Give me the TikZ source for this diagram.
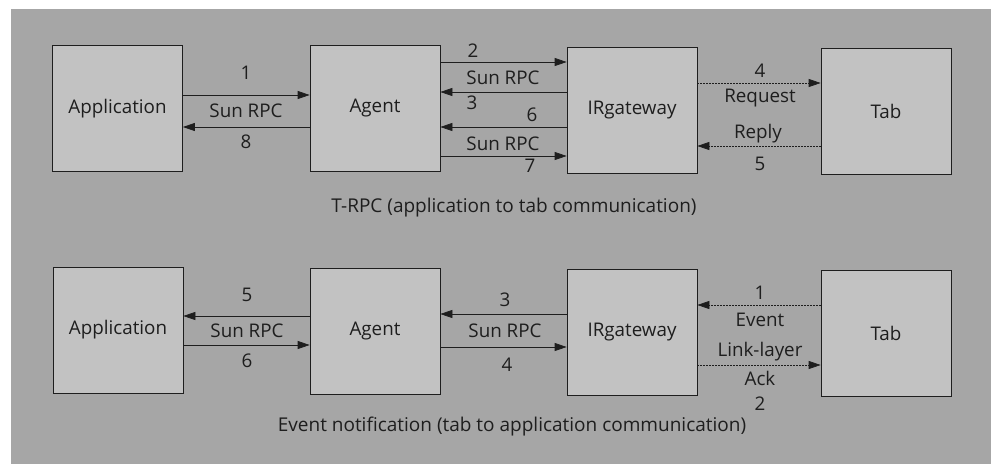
\documentclass[tikz,border=0pt]{standalone}
\usepackage{fontspec}
\setmainfont{Open Sans}
\usetikzlibrary{arrows.meta}
\definecolor{bg}{HTML}{A6A6A6}
\definecolor{boxc}{HTML}{C2C2C2}
\definecolor{ink}{HTML}{1E1E1E}
\begin{document}
\begin{tikzpicture}[x=1pt,y=-1pt,
  font=\fontsize{18.8}{20}\selectfont,
  blk/.style={draw=ink, line width=0.7pt, fill=boxc, minimum width=130pt, minimum height=126pt, inner sep=0pt, text=ink},
  conn/.style={draw=ink, line width=0.7pt, -{Triangle[length=12pt,width=8pt]}},
  dconn/.style={conn, dash pattern=on 1.5pt off 1.5pt},
  lbl/.style={text=ink, inner sep=0pt},
  captxt/.style={lbl, font=\fontsize{19}{20}\selectfont}]
\useasboundingbox (0,0) rectangle (991,464);
\fill[bg] (11,9) rectangle (991,464);
% top row
\node[blk] (app1) at (117.5,108.5) {Application};
\node[blk] (ag1) at (375,108.5) {Agent};
\node[blk] (ir1) at (632,110) {IRgateway};
\node[blk] (tab1) at (886,111) {Tab};
\draw[conn] (app1.east |- {(0,95)}) -- (ag1.west |- {(0,95)});
\draw[conn] (ag1.west |- {(0,127)}) -- (app1.east |- {(0,127)});
\node[lbl] (t1) at (246,73) {1};
\node[lbl] (t2) at (246,111) {Sun RPC};
\node[lbl] (t3) at (246,142) {8};
\draw[conn] (ag1.east |- {(0,62)}) -- (ir1.west |- {(0,62)});
\draw[conn] (ir1.west |- {(0,92)}) -- (ag1.east |- {(0,92)});
\draw[conn] (ir1.west |- {(0,127)}) -- (ag1.east |- {(0,127)});
\draw[conn] (ag1.east |- {(0,156)}) -- (ir1.west |- {(0,156)});
\node[lbl] (t4) at (473,51) {2};
\node[lbl] (t5) at (503,78) {Sun RPC};
\node[lbl] (t6) at (472,103) {3};
\node[lbl] (t7) at (532,115) {6};
\node[lbl] (t8) at (503,144) {Sun RPC};
\node[lbl] (t9) at (530,166) {7};
\draw[dconn] (ir1.east |- {(0,83)}) -- (tab1.west |- {(0,83)});
\draw[dconn] (tab1.west |- {(0,146)}) -- (ir1.east |- {(0,146)});
\node[lbl] (t10) at (760,71) {4};
\node[lbl] (t11) at (760,98) {Request};
\node[lbl] (t12) at (758,134) {Reply};
\node[lbl] (t13) at (760,164) {5};
\node[captxt] (cap1) at (514,208) {T-RPC (application to tab communication)};
% bottom row
\node[blk] (app2) at (118,330) {Application};
\node[blk] (ag2) at (375,331) {Agent};
\node[blk] (ir2) at (632,332) {IRgateway};
\node[blk] (tab2) at (886,333.5) {Tab};
\draw[conn] (ag2.west |- {(0,316)}) -- (app2.east |- {(0,316)});
\draw[conn] (app2.east |- {(0,345)}) -- (ag2.west |- {(0,345)});
\node[lbl] (b1) at (247,295) {5};
\node[lbl] (b2) at (247,331) {Sun RPC};
\node[lbl] (b3) at (247,361) {6};
\draw[conn] (ir2.west |- {(0,314)}) -- (ag2.east |- {(0,314)});
\draw[conn] (ag2.east |- {(0,347)}) -- (ir2.west |- {(0,347)});
\node[lbl] (b4) at (505,300) {3};
\node[lbl] (b5) at (505,331) {Sun RPC};
\node[lbl] (b6) at (507,365) {4};
\draw[dconn] (tab2.west |- {(0,305)}) -- (ir2.east |- {(0,305)});
\draw[dconn] (ir2.east |- {(0,365)}) -- (tab2.west |- {(0,365)});
\node[lbl] (b7) at (760,293) {1};
\node[lbl] (b8) at (760,320) {Event};
\node[lbl] (b9) at (760,352) {Link-layer};
\node[lbl] (b10) at (760,378) {Ack};
\node[lbl] (b11) at (760,404) {2};
\node[captxt] (cap2) at (512,427) {Event notification (tab to application communication)};
\end{tikzpicture}
\end{document}
